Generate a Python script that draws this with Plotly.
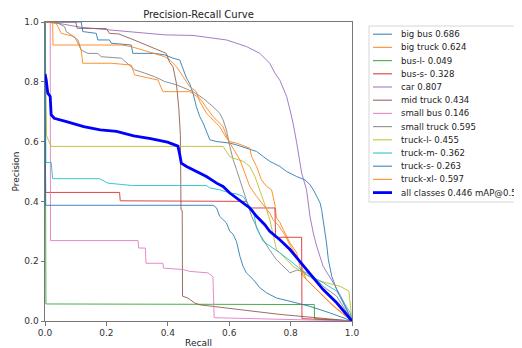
import plotly.graph_objects as go

# ---------------- data ----------------
class_names = ["big bus", "big truck", "bus-l-", "bus-s-", "car", "mid truck",
               "small bus", "small truck", "truck-l-", "truck-m-", "truck-s-", "truck-xl-"]
class_ap = [0.686, 0.624, 0.049, 0.328, 0.807, 0.434, 0.146, 0.595, 0.455, 0.362, 0.263, 0.597]
all_ap = 0.446

big_bus_r = [0, 0.118, 0.123, 0.167, 0.172, 0.21, 0.216, 0.281, 0.286, 0.357, 0.39, 0.417, 0.439, 0.45, 0.461,
             0.471, 0.482, 0.493, 0.504, 0.515, 0.526, 0.537, 0.56, 0.602, 0.624, 0.667, 0.689, 0.711, 0.732,
             0.765, 0.787, 0.82, 0.847, 0.863, 0.874, 0.885, 0.896, 0.901, 0.906, 0.912, 0.917, 0.923, 0.934,
             0.95, 0.972, 1.0]
big_bus_p = [1, 1.0, 0.968, 0.962, 0.94, 0.94, 0.929, 0.923, 0.895, 0.895, 0.89, 0.879, 0.873, 0.84, 0.812,
             0.795, 0.762, 0.717, 0.684, 0.662, 0.634, 0.606, 0.60, 0.595, 0.589, 0.573, 0.567, 0.55, 0.534,
             0.517, 0.5, 0.483, 0.472, 0.456, 0.439, 0.417, 0.395, 0.372, 0.339, 0.294, 0.261, 0.205, 0.15,
             0.105, 0.061, 0.0]

big_truck_r = [0, 0.025, 0.026, 0.25, 0.28, 0.39, 0.406, 0.428, 0.45, 0.471, 0.493, 0.504, 0.526, 0.547, 0.569,
               0.591, 0.602, 0.624, 0.667, 0.673, 0.689, 0.705, 0.722, 0.738, 0.749, 0.754, 0.765, 0.776, 0.798,
               0.82, 0.83, 0.841, 0.874, 0.906, 0.928, 1.0]
big_truck_p = [1, 1.0, 0.923, 0.923, 0.918, 0.884, 0.873, 0.851, 0.817, 0.784, 0.767, 0.734, 0.695, 0.673, 0.65,
               0.612, 0.6, 0.595, 0.578, 0.55, 0.517, 0.472, 0.45, 0.439, 0.389, 0.345, 0.33, 0.306, 0.261,
               0.228, 0.183, 0.15, 0.116, 0.083, 0.061, 0.0]

bus_l_r = [0, 0.003, 0.877, 0.878, 1.0]
bus_l_p = [1, 0.057, 0.055, 0.008, 0.0]

bus_s_r = [0, 0.002, 0.243, 0.245, 0.656, 0.667, 0.749, 0.751, 0.836, 0.837, 1.0]
bus_s_p = [1, 0.43, 0.43, 0.402, 0.40, 0.378, 0.378, 0.28, 0.28, 0.008, 0.0]

car_r = [0, 0.02, 0.118, 0.216, 0.39, 0.482, 0.591, 0.656, 0.7, 0.732, 0.749, 0.765, 0.787, 0.798, 0.808,
         0.82, 0.836, 0.852, 0.863, 0.874, 0.885, 0.906, 0.939, 0.97, 1.0]
car_p = [1, 1.0, 0.982, 0.973, 0.957, 0.955, 0.94, 0.918, 0.895, 0.862, 0.829, 0.805, 0.751, 0.706, 0.662,
         0.595, 0.495, 0.439, 0.35, 0.294, 0.25, 0.183, 0.128, 0.07, 0.0]

mid_truck_r = [0, 0.10, 0.105, 0.20, 0.21, 0.24, 0.29, 0.395, 0.406, 0.417, 0.428, 0.436, 0.441, 0.443, 0.447,
               0.448, 0.465, 0.488, 0.505, 0.56, 0.667, 0.765, 1.0]
mid_truck_p = [1, 1.0, 0.979, 0.978, 0.962, 0.96, 0.94, 0.895, 0.865, 0.85, 0.795, 0.71, 0.62, 0.372, 0.37,
               0.083, 0.077, 0.06, 0.054, 0.047, 0.033, 0.022, 0.0]

small_bus_r = [0, 0.017, 0.018, 0.303, 0.305, 0.327, 0.329, 0.384, 0.386, 0.45, 0.471, 0.531, 0.547, 0.551, 1.0]
small_bus_p = [1, 1.0, 0.269, 0.269, 0.244, 0.244, 0.193, 0.193, 0.177, 0.172, 0.166, 0.161, 0.148, 0.011, 0.0]

small_truck_r = [0, 0.042, 0.064, 0.069, 0.085, 0.107, 0.118, 0.14, 0.172, 0.183, 0.249, 0.292, 0.325, 0.357,
                 0.39, 0.428, 0.482, 0.515, 0.547, 0.569, 0.58, 0.591, 0.602, 0.613, 0.624, 0.635, 0.651, 0.662,
                 0.673, 0.7, 0.73, 0.754, 0.798, 0.82, 0.841, 0.874, 0.906, 0.95, 1.0]
small_truck_p = [1, 0.996, 0.984, 0.968, 0.957, 0.94, 0.906, 0.895, 0.895, 0.884, 0.879, 0.84, 0.829, 0.817,
                 0.801, 0.79, 0.767, 0.745, 0.717, 0.695, 0.673, 0.639, 0.584, 0.539, 0.506, 0.472, 0.417, 0.383,
                 0.35, 0.29, 0.24, 0.205, 0.161, 0.17, 0.166, 0.15, 0.116, 0.083, 0.0]

truck_l_r = [0, 0.005, 0.02, 0.58, 0.602, 0.613, 0.645, 0.667, 0.684, 0.7, 0.711, 0.722, 0.732, 0.743, 0.754,
             0.808, 0.874, 0.917, 0.961, 0.99, 1.0]
truck_l_p = [1, 0.62, 0.584, 0.584, 0.55, 0.545, 0.534, 0.517, 0.483, 0.439, 0.406, 0.372, 0.339, 0.29, 0.239,
             0.183, 0.139, 0.128, 0.116, 0.1, 0.0]

truck_m_r = [0, 0.003, 0.02, 0.025, 0.178, 0.205, 0.286, 0.526, 0.537, 0.569, 0.602, 0.624, 0.645, 0.667,
             0.678, 0.689, 0.711, 0.765, 0.808, 0.852, 0.895, 0.95, 0.993, 1.0]
truck_m_p = [1, 0.53, 0.53, 0.476, 0.476, 0.461, 0.453, 0.453, 0.445, 0.439, 0.428, 0.425, 0.417, 0.383,
             0.372, 0.311, 0.266, 0.228, 0.194, 0.155, 0.135, 0.1, 0.03, 0.0]

truck_s_r = [0, 0.002, 0.548, 0.559, 0.569, 0.591, 0.602, 0.613, 0.624, 0.635, 0.645, 0.656, 0.678, 0.7, 0.722,
             0.754, 0.798, 0.863, 0.928, 1.0]
truck_s_p = [1, 0.387, 0.387, 0.378, 0.35, 0.328, 0.3, 0.29, 0.265, 0.216, 0.183, 0.161, 0.139, 0.111, 0.094,
             0.077, 0.066, 0.049, 0.027, 0.0]

truck_xl_r = [0, 0.036, 0.053, 0.096, 0.118, 0.123, 0.216, 0.281, 0.292, 0.368, 0.384, 0.471, 0.504, 0.515,
              0.547, 0.58, 0.596, 0.635, 0.651, 0.667, 0.689, 0.711, 0.732, 0.743, 0.76, 0.78, 0.8, 0.83, 0.85,
              0.88, 0.91, 0.95, 1.0]
truck_xl_p = [1, 0.996, 0.962, 0.951, 0.906, 0.862, 0.862, 0.856, 0.823, 0.806, 0.767, 0.767, 0.745, 0.729,
              0.684, 0.65, 0.606, 0.539, 0.495, 0.45, 0.417, 0.389, 0.361, 0.339, 0.32, 0.29, 0.25, 0.2, 0.14,
              0.11, 0.08, 0.04, 0.0]

all_r = [0, 0.004, 0.009, 0.017, 0.02, 0.03, 0.07, 0.126, 0.18, 0.233, 0.289, 0.344, 0.399, 0.433, 0.439,
         0.444, 0.461, 0.493, 0.526, 0.559, 0.58, 0.602, 0.635, 0.667, 0.689, 0.716, 0.732, 0.765, 0.798, 0.83,
         0.841, 0.874, 0.906, 0.95, 1.0]
all_p = [0.826, 0.806, 0.762, 0.751, 0.69, 0.678, 0.667, 0.65, 0.639, 0.634, 0.619, 0.61, 0.598, 0.585, 0.556,
         0.528, 0.517, 0.5, 0.483, 0.461, 0.45, 0.428, 0.403, 0.378, 0.35, 0.322, 0.3, 0.272, 0.239, 0.2,
         0.183, 0.144, 0.105, 0.061, 0.0]

class_recall = [big_bus_r, big_truck_r, bus_l_r, bus_s_r, car_r, mid_truck_r, small_bus_r, small_truck_r,
                truck_l_r, truck_m_r, truck_s_r, truck_xl_r]
class_prec = [big_bus_p, big_truck_p, bus_l_p, bus_s_p, car_p, mid_truck_p, small_bus_p, small_truck_p,
              truck_l_p, truck_m_p, truck_s_p, truck_xl_p]

tab10 = ["#1f77b4", "#ff7f0e", "#2ca02c", "#d62728", "#9467bd", "#8c564b",
         "#e377c2", "#7f7f7f", "#bcbd22", "#17becf"]
tick_vals = [0.0, 0.2, 0.4, 0.6, 0.8, 1.0]
tick_text = ["0.0", "0.2", "0.4", "0.6", "0.8", "1.0"]

# ---------------- figure ----------------
W, H = 522, 348
OFF = 8                       # page body margin of the html page
PL, PT, PR_, PB = 45, 22, 352, 321   # wanted plot box in window pixels
ML, MT = PL - OFF, PT - OFF
PW, PH = PR_ - PL, PB - PT
MR, MB = W - ML - PW, H - MT - PH
FONT = "DejaVu Sans"

fig = go.Figure()
labels = []
colors = []
for i, (name, ap) in enumerate(zip(class_names, class_ap)):
    c = tab10[i % 10]
    fig.add_trace(go.Scatter(x=class_recall[i], y=class_prec[i], mode="lines",
                             line=dict(color=c, width=1), opacity=0.85,
                             name=f"{name} {ap:.3f}", showlegend=False, hoverinfo="skip"))
    labels.append(f"{name} {ap:.3f}")
    colors.append(c)

fig.add_trace(go.Scatter(x=all_r, y=all_p, mode="lines", line=dict(color="#0000ff", width=2.8),
                         name=f"all classes {all_ap:.3f} mAP@0.5", showlegend=False, hoverinfo="skip"))
labels.append(f"all classes {all_ap:.3f} mAP@0.5")
colors.append("#0000ff")


def px2x(px):
    return (px - PL) / PW


def py2y(py):
    return (PB - py) / PH


shapes = [dict(type="rect", xref="paper", yref="paper", x0=px2x(369), x1=px2x(540),
               y0=py2y(202), y1=py2y(26), line=dict(color="#d6d6d6", width=1),
               fillcolor="white", layer="above")]
annotations = []
for i, (lab, c) in enumerate(zip(labels, colors)):
    yc = 34.2 + 13.2 * i
    last = i == len(labels) - 1
    shapes.append(dict(type="line", xref="paper", yref="paper", x0=px2x(373), x1=px2x(392),
                       y0=py2y(yc), y1=py2y(yc), line=dict(color=c, width=2.8 if last else 1.2),
                       opacity=1 if last else 0.8, layer="above"))
    annotations.append(dict(x=px2x(398.5), y=py2y(yc), xref="paper", yref="paper", text=lab,
                            showarrow=False, xanchor="left", yanchor="middle",
                            font=dict(family=FONT, size=8.6, color="#222")))

axis_common = dict(range=[0, 1], tickvals=tick_vals, ticktext=tick_text, showgrid=False, zeroline=False,
                   showline=True, linecolor="#777", linewidth=1, mirror=True, ticks="outside",
                   ticklen=3.5, tickcolor="#777", tickwidth=1,
                   tickfont=dict(family=FONT, size=9, color="#333"))

fig.update_layout(
    width=W, height=H, margin=dict(l=ML, r=MR, t=MT, b=MB, autoexpand=False),
    paper_bgcolor="white", plot_bgcolor="white",
    title=dict(text="Precision-Recall Curve", x=0.5, xref="paper", xanchor="center",
               y=1 - (14 - OFF) / H, yref="container", yanchor="middle",
               font=dict(family=FONT, size=10, color="#222")),
    xaxis=dict(axis_common, title=dict(text="Recall", standoff=2,
                                       font=dict(family=FONT, size=9, color="#222"))),
    yaxis=dict(axis_common, title=dict(text="Precision", standoff=3,
                                       font=dict(family=FONT, size=9, color="#222"))),
    shapes=shapes, annotations=annotations, showlegend=False,
)

fig.write_html("out.html")
